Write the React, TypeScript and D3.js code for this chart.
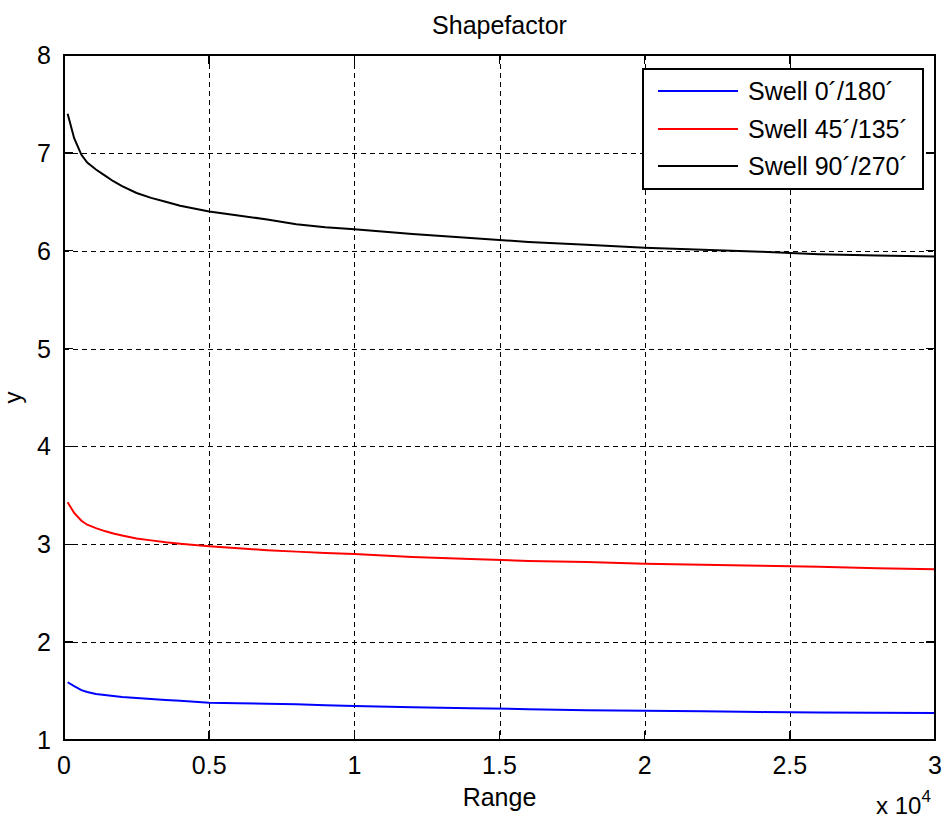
import React from "react";
import * as d3 from "d3";

// Range samples (shared by every series)
const ranges = [125, 350, 600, 800, 1100, 1400, 1700, 2000, 2500, 3000, 3500, 4000, 5000, 6000, 7000, 8000, 9000, 10000, 12000, 14000, 16000, 18000, 20000, 22000, 24000, 26000, 28000, 30000];

const swell0_180 = [1.59, 1.55, 1.51, 1.49, 1.47, 1.46, 1.45, 1.44, 1.43, 1.42, 1.41, 1.40, 1.38, 1.375, 1.37, 1.365, 1.355, 1.347, 1.335, 1.325, 1.315, 1.305, 1.30, 1.295, 1.285, 1.28, 1.278, 1.277];
const swell45_135 = [3.43, 3.32, 3.24, 3.20, 3.165, 3.135, 3.11, 3.09, 3.06, 3.04, 3.02, 3.005, 2.98, 2.96, 2.94, 2.925, 2.91, 2.90, 2.87, 2.85, 2.83, 2.82, 2.80, 2.79, 2.78, 2.77, 2.755, 2.745];
const swell90_270 = [7.40, 7.15, 6.98, 6.90, 6.83, 6.77, 6.71, 6.66, 6.59, 6.54, 6.50, 6.46, 6.40, 6.36, 6.32, 6.27, 6.24, 6.22, 6.17, 6.13, 6.09, 6.06, 6.03, 6.01, 5.99, 5.965, 5.95, 5.94];

const seriesNames = ["Swell 0´/180´", "Swell 45´/135´", "Swell 90´/270´"];
const seriesColors = ["#0000ff", "#ff0000", "#000000"];

const xTicks = [0, 5000, 10000, 15000, 20000, 25000, 30000];
const xTickLabels = ["0", "0.5", "1", "1.5", "2", "2.5", "3"];
const yTicks = [1, 2, 3, 4, 5, 6, 7, 8];

const W = 942;
const H = 821;
const plot = { left: 64, right: 935, top: 55, bottom: 740 };
const FONT = "'Liberation Sans', Arial, sans-serif";

export default function App() {
  const x = d3.scaleLinear().domain([0, 30000]).range([plot.left, plot.right]);
  const y = d3.scaleLinear().domain([1, 8]).range([plot.bottom, plot.top]);
  const line = d3
    .line<number>()
    .x((_, i) => x(ranges[i]))
    .y((d) => y(d));
  const series = [swell0_180, swell45_135, swell90_270];
  const tickLen = 9;

  const legend = { x: 643, y: 69, w: 280, h: 120 };
  const rowY = [91, 129, 166];

  return (
    <div style={{ position: "absolute", left: 0, top: 0 }}>
      <svg width={W} height={H} style={{ display: "block", background: "#fff" }} fontFamily={FONT}>
        {/* grid */}
        <g stroke="#000" strokeWidth={1.3} strokeDasharray="5,4" shapeRendering="crispEdges">
          {xTicks.slice(1, -1).map((t) => (
            <line key={"gx" + t} x1={Math.round(x(t)) + 0.5} x2={Math.round(x(t)) + 0.5} y1={plot.top} y2={plot.bottom} />
          ))}
          {yTicks.slice(1, -1).map((t) => (
            <line key={"gy" + t} y1={Math.round(y(t)) + 0.5} y2={Math.round(y(t)) + 0.5} x1={plot.left} x2={plot.right} />
          ))}
        </g>

        {/* ticks on all four sides */}
        <g stroke="#000" strokeWidth={1.5} shapeRendering="crispEdges">
          {xTicks.map((t) => (
            <g key={"tx" + t}>
              <line x1={x(t)} x2={x(t)} y1={plot.bottom} y2={plot.bottom - tickLen} />
              <line x1={x(t)} x2={x(t)} y1={plot.top} y2={plot.top + tickLen} />
            </g>
          ))}
          {yTicks.map((t) => (
            <g key={"ty" + t}>
              <line y1={y(t)} y2={y(t)} x1={plot.left} x2={plot.left + tickLen} />
              <line y1={y(t)} y2={y(t)} x1={plot.right} x2={plot.right - tickLen} />
            </g>
          ))}
        </g>

        {/* curves */}
        {series.map((s, i) => (
          <path key={"s" + i} d={line(s) || ""} fill="none" stroke={seriesColors[i]} strokeWidth={2} />
        ))}

        {/* axes box */}
        <rect
          x={plot.left}
          y={plot.top}
          width={plot.right - plot.left}
          height={plot.bottom - plot.top}
          fill="none"
          stroke="#000"
          strokeWidth={2}
          shapeRendering="crispEdges"
        />

        {/* tick labels */}
        <g fontSize={25} fill="#000">
          {xTicks.map((t, i) => (
            <text key={"lx" + t} x={x(t)} y={774} textAnchor="middle">
              {xTickLabels[i]}
            </text>
          ))}
          {yTicks.map((t) => (
            <text key={"ly" + t} x={51} y={y(t) + 9} textAnchor="end">
              {t}
            </text>
          ))}
        </g>

        {/* exponent */}
        <text x={876} y={814} fontSize={24} fill="#000">
          x 10
          <tspan fontSize={17} dy={-12}>4</tspan>
        </text>

        {/* title and axis labels */}
        <text x={(plot.left + plot.right) / 2} y={34} fontSize={25} textAnchor="middle" fill="#000">
          Shapefactor
        </text>
        <text x={(plot.left + plot.right) / 2} y={806} fontSize={25} textAnchor="middle" fill="#000">
          Range
        </text>
        <text transform={`translate(21, ${(plot.top + plot.bottom) / 2}) rotate(-90)`} fontSize={24} textAnchor="middle" fill="#000">
          y
        </text>

        {/* legend */}
        <g>
          <rect x={legend.x} y={legend.y} width={legend.w} height={legend.h} fill="#fff" stroke="#000" strokeWidth={2} shapeRendering="crispEdges" />
          {seriesNames.map((name, i) => (
            <g key={"lg" + i}>
              <line x1={658} x2={738} y1={rowY[i]} y2={rowY[i]} stroke={seriesColors[i]} strokeWidth={2} />
              <text x={748} y={rowY[i] + 9} fontSize={25} fill="#000">
                {name}
              </text>
            </g>
          ))}
        </g>
      </svg>
    </div>
  );
}
